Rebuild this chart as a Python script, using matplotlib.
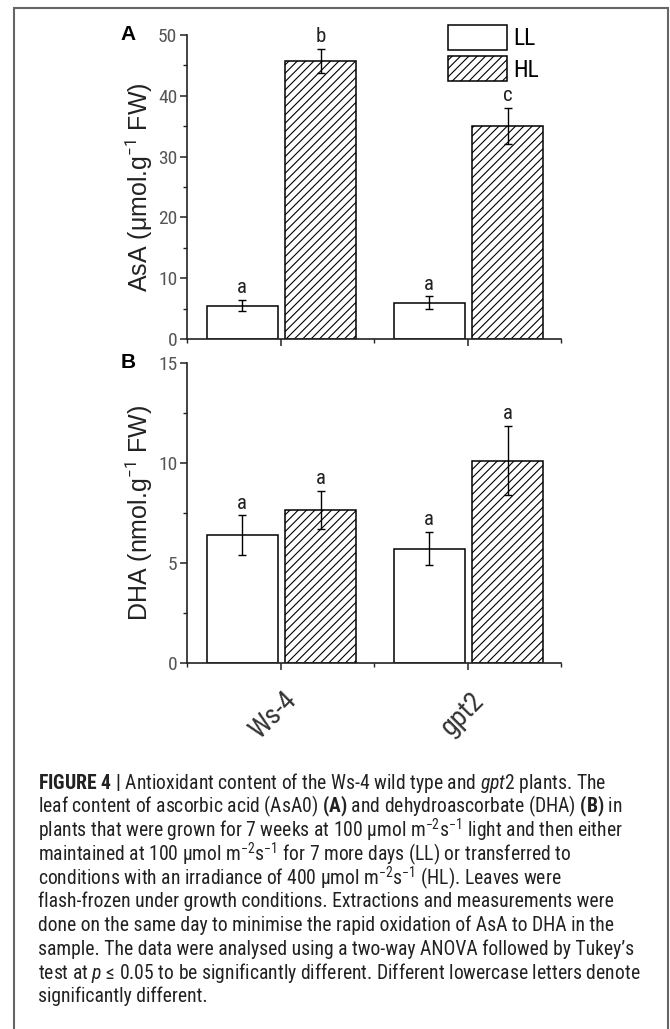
import numpy as np
import matplotlib
matplotlib.use("Agg")
import matplotlib.pyplot as plt
import matplotlib.transforms as mtransforms
from matplotlib import font_manager
from matplotlib.patches import Rectangle

# genotypes and light treatments
genotypes = ["Ws-4", "gpt2"]
treatments = ["LL", "HL"]

# AsA content (umol g-1 FW)
asa_ll = [5.5, 6.0]
asa_ll_err = [0.9, 1.0]
asa_hl = [45.7, 35.0]
asa_hl_err = [2.0, 3.0]
asa_ll_letters = ["a", "a"]
asa_hl_letters = ["b", "c"]

# DHA content (nmol g-1 FW)
dha_ll = [6.4, 5.72]
dha_ll_err = [0.98, 0.82]
dha_hl = [7.65, 10.12]
dha_hl_err = [0.94, 1.73]
dha_ll_letters = ["a", "a"]
dha_hl_letters = ["a", "a"]

caption_lines = [
    r"$\mathbf{FIGURE\ 4\ |}$ Antioxidant content of the Ws-4 wild type and $\mathit{gpt2}$ plants. The",
    r"leaf content of ascorbic acid (AsA0) $\mathbf{(A)}$ and dehydroascorbate (DHA) $\mathbf{(B)}$ in",
    r"plants that were grown for 7 weeks at 100 μmol $\mathrm{m}^{-2}\mathrm{s}^{-1}$ light and then either",
    r"maintained at 100 μmol $\mathrm{m}^{-2}\mathrm{s}^{-1}$ for 7 more days (LL) or transferred to",
    r"conditions with an irradiance of 400 μmol $\mathrm{m}^{-2}\mathrm{s}^{-1}$ (HL). Leaves were",
    "flash-frozen under growth conditions. Extractions and measurements were",
    "done on the same day to minimise the rapid oxidation of AsA to DHA in the",
    "sample. The data were analysed using a two-way ANOVA followed by Tukey\u2019s",
    r"test at $\mathit{p}$ ≤ 0.05 to be significantly different. Different lowercase letters denote",
    "significantly different.",
]


def _pick_font(names):
    for name in names:
        try:
            font_manager.findfont(name, fallback_to_default=False)
            return name
        except Exception:
            continue
    return "DejaVu Sans"


NARROW = _pick_font(["Liberation Sans Narrow", "Roboto Condensed", "Liberation Sans"])
WIDE = _pick_font(["Liberation Sans", "Arial"])

plt.rcParams["font.family"] = [NARROW, "DejaVu Sans"]
plt.rcParams["mathtext.fontset"] = "custom"
plt.rcParams["mathtext.rm"] = NARROW
plt.rcParams["mathtext.it"] = NARROW + ":italic"
plt.rcParams["mathtext.bf"] = NARROW + ":bold"
plt.rcParams["hatch.linewidth"] = 0.8

W, H = 670, 1029
fig = plt.figure(figsize=(W / 100, H / 100), dpi=100)


def px_axes(x0, y0, x1, y1):
    return fig.add_axes([x0 / W, 1 - y1 / H, (x1 - x0) / W, (y1 - y0) / H])


ax_a = px_axes(187, 35, 561, 339)
ax_b = px_axes(187, 363, 561, 663)

x = np.arange(1, len(genotypes) + 1)
bar_w = 0.38
off_ll, off_hl = -0.205, 0.215


def draw_panel(ax, ll, ll_err, hl, hl_err, ll_let, hl_let, ymax, ystep, ylabel, tag):
    ax.bar(x + off_ll, ll, bar_w, color="white", edgecolor="black",
           linewidth=1.1, label=treatments[0], zorder=2)
    ax.bar(x + off_hl, hl, bar_w, color="white", edgecolor="black",
           linewidth=1.1, hatch="////", label=treatments[1], zorder=2)
    ax.errorbar(x + off_ll, ll, yerr=ll_err, fmt="none", ecolor="black",
                elinewidth=1, capsize=3, capthick=1, zorder=3)
    ax.errorbar(x + off_hl, hl, yerr=hl_err, fmt="none", ecolor="black",
                elinewidth=1, capsize=3, capthick=1, zorder=3)

    # significance letters above the error bars
    for xs, vals, errs, lets in [(x + off_ll, ll, ll_err, ll_let),
                                 (x + off_hl, hl, hl_err, hl_let)]:
        for xi, v, e, t in zip(xs, vals, errs, lets):
            ax.annotate(t, (xi, v + e), xytext=(0, 2), textcoords="offset points",
                        ha="center", va="bottom", fontsize=15, color="#222")

    ax.set_xlim(0.5, 2.5)
    ax.set_ylim(0, ymax)
    ax.set_yticks(np.arange(0, ymax + 0.01, ystep))
    ax.set_yticks(np.arange(ystep / 2, ymax, ystep), minor=True)
    ax.set_xticks(x)
    ax.set_xticks([0.5, 1.5, 2.5], minor=True)
    for side in ["top", "right"]:
        ax.spines[side].set_visible(False)
    for side in ["left", "bottom"]:
        ax.spines[side].set_linewidth(1.2)
        ax.spines[side].set_color("#222")
    ax.tick_params(which="major", direction="out", length=5, width=1.1,
                   color="#222", labelsize=14, labelcolor="#555", pad=2)
    ax.tick_params(which="minor", direction="out", length=3, width=1.0, color="#222")
    ax.set_ylabel(ylabel, fontsize=18, family=WIDE, color="#222", va="center")
    ax.yaxis.set_label_coords(-0.128, 0.5)
    ax.annotate(tag, (0, ymax), xycoords=("axes fraction", "data"),
                xytext=(-59, 0), textcoords="offset pixels", fontsize=15,
                fontweight="bold", family=WIDE, ha="center", va="center")


draw_panel(ax_a, asa_ll, asa_ll_err, asa_hl, asa_hl_err, asa_ll_letters, asa_hl_letters,
           50, 10, r"AsA (μmol.g$^{\mathrm{-1}}$ FW)", "A")
draw_panel(ax_b, dha_ll, dha_ll_err, dha_hl, dha_hl_err, dha_ll_letters, dha_hl_letters,
           15, 5, r"DHA (nmol.g$^{\mathrm{-1}}$ FW)", "B")

ax_a.set_xticklabels([])
ax_b.set_xticklabels(genotypes, rotation=45, fontsize=20, color="#333",
                     ha="right", va="center", rotation_mode="anchor")
ax_b.tick_params(axis="x", which="major", pad=19)
shift = mtransforms.ScaledTranslation(12 / 100, 0, fig.dpi_scale_trans)
for lbl in ax_b.get_xticklabels():
    lbl.set_transform(lbl.get_transform() + shift)

ax_a.legend(loc="upper left", bbox_to_anchor=(448 / W, 1 - 25 / H),
            bbox_transform=fig.transFigure, frameon=False, fontsize=17,
            handlelength=2.5, handleheight=1.25, labelspacing=0.25,
            handletextpad=0.25, borderpad=0, borderaxespad=0)

# outer frame of the figure panel
fig.patches.append(Rectangle((14 / W, -0.01), (668 - 14) / W, 1.01 - 8 / H,
                             transform=fig.transFigure, fill=False,
                             edgecolor="#666", linewidth=1.5))

# caption: size chosen so the longest line fits the text column
y0, pitch, x_left, col_w = 783, 23.7, 38, 604
cap_texts = []
for i, line in enumerate(caption_lines):
    cap_texts.append(fig.text(x_left / W, 1 - (y0 + i * pitch) / H, line,
                              fontsize=14.5, color="#222", ha="left", va="center"))
renderer = fig.canvas.get_renderer()
widest = max(t.get_window_extent(renderer).width for t in cap_texts)
for t in cap_texts:
    t.set_fontsize(14.5 * col_w / widest)

fig.savefig("out.png", dpi=100)
